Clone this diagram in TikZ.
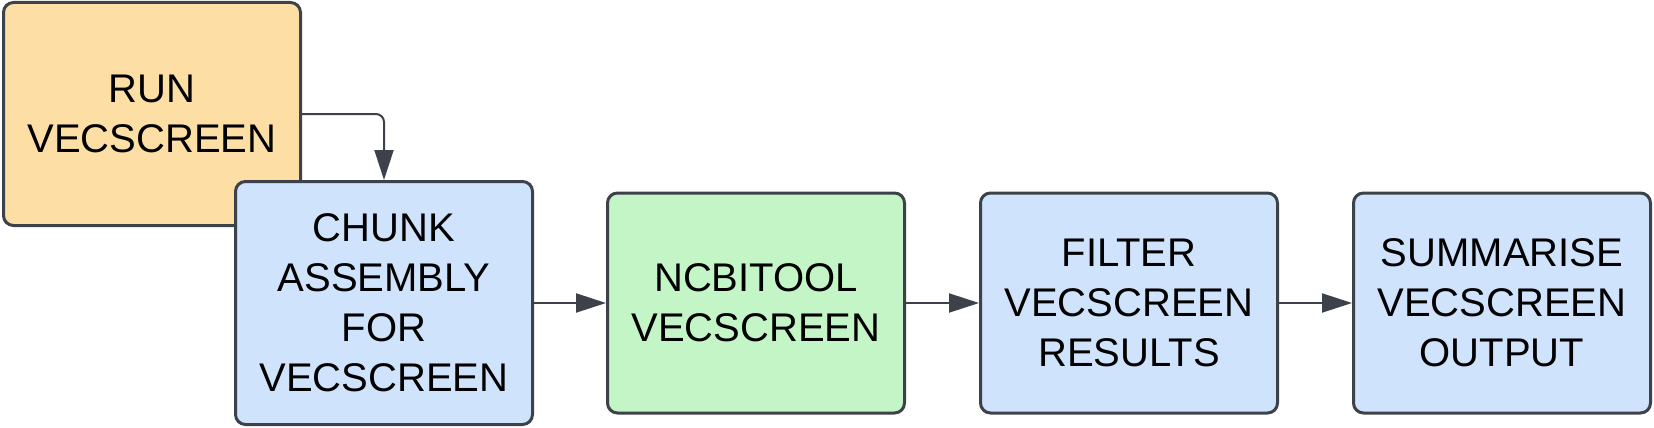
\documentclass[tikz,border=0pt]{standalone}
\usepackage{fontspec}
\setmainfont{Liberation Sans}
\usepackage{xcolor}
\usepackage{tikz}
\usetikzlibrary{arrows.meta,calc}

\definecolor{boxline}{HTML}{3D424A}
\definecolor{runfill}{HTML}{FDDFA6}
\definecolor{stepfill}{HTML}{CFE3FC}
\definecolor{toolfill}{HTML}{C3F5C7}

\begin{document}
\begin{tikzpicture}[x=1pt, y=1pt,
    box/.style={draw=boxline, line width=3pt, rounded corners=10pt, minimum width=297pt, inner sep=0pt, align=center, font=\fontsize{40}{50}\selectfont},
    flow/.style={draw=boxline, line width=2pt, -{Triangle[length=30pt, width=19pt]}}]
    % Canvas
    \useasboundingbox (0,0) rectangle (1654,-428);

    % Start step
    \node[box, fill=runfill, minimum height=223pt] (run) at (152,-114) {RUN\\VECSCREEN};

    % Pipeline
    \node[box, fill=stepfill, minimum height=243pt] (chunk) at (384,-303) {CHUNK\\ASSEMBLY\\FOR\\VECSCREEN};
    \node[box, fill=toolfill, minimum height=220pt] (ncbi) at (756,-303) {NCBITOOL\\VECSCREEN};
    \node[box, fill=stepfill, minimum height=220pt] (filter) at (1129,-303) {FILTER\\VECSCREEN\\RESULTS};
    \node[box, fill=stepfill, minimum height=220pt] (summ) at (1502,-303) {SUMMARISE\\VECSCREEN\\OUTPUT};

    % Connectors
    \draw[flow, rounded corners=8pt] (run.east) -| (chunk.north);
    \draw[flow] (chunk.east) -- (ncbi.west);
    \draw[flow] (ncbi.east) -- (filter.west);
    \draw[flow] (filter.east) -- (summ.west);
\end{tikzpicture}
\end{document}
